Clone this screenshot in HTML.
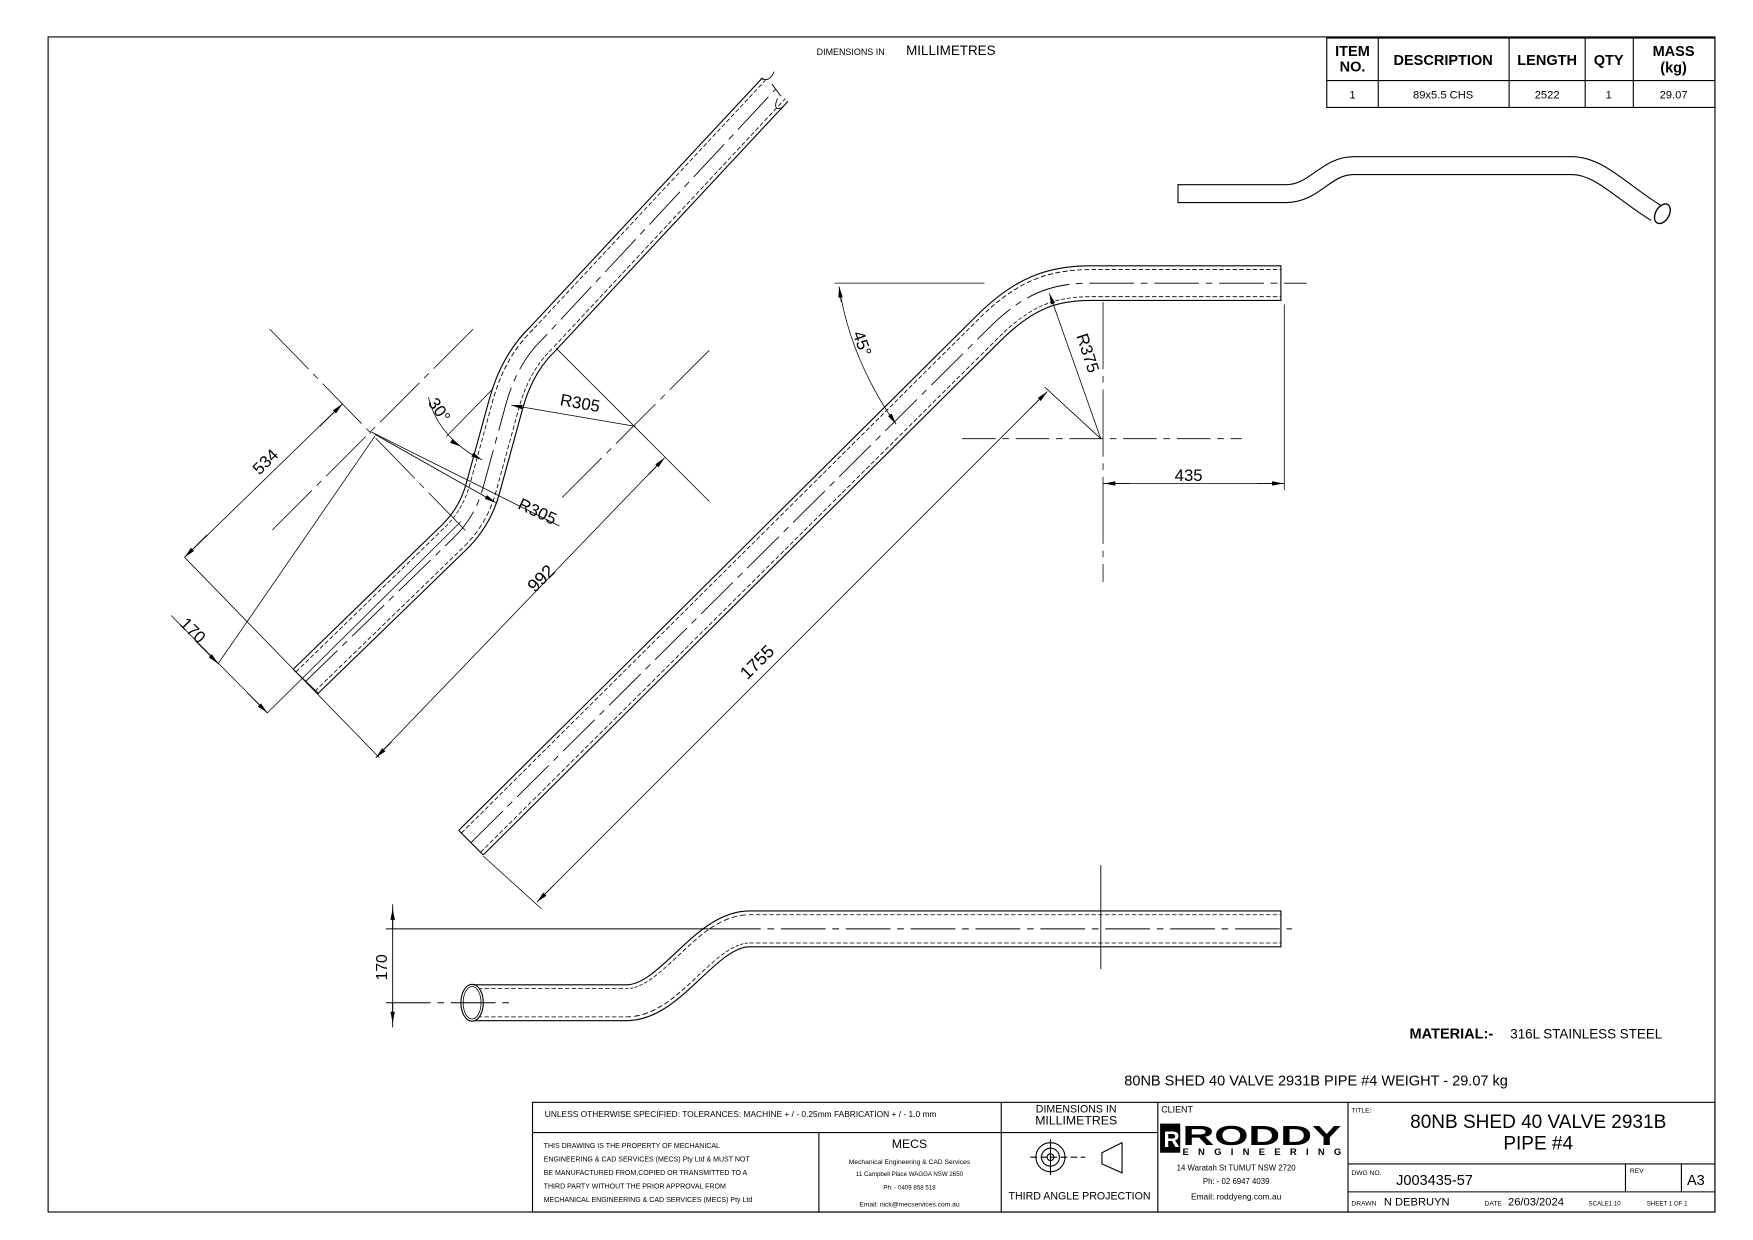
<!DOCTYPE html>
<html><head><meta charset="utf-8"><style>
html,body{margin:0;padding:0;background:#fff;}
svg{display:block;}
text{font-family:"Liberation Sans",sans-serif;fill:#000;}
</style></head><body>
<svg width="1753" height="1240" viewBox="0 0 1567 1108" preserveAspectRatio="none" xmlns="http://www.w3.org/2000/svg">
<defs>
<marker id="ar" viewBox="0 0 10 4" refX="10" refY="2" markerWidth="10" markerHeight="4" orient="auto" markerUnits="userSpaceOnUse"><path d="M0,0 L10,2 L0,4 z" fill="#000"/></marker>
</defs>
<rect x="43" y="33" width="1490" height="1050" fill="none" stroke="#000" stroke-width="1"/>
<text x="730" y="49" font-size="8">DIMENSIONS IN</text><text x="810" y="49" font-size="12">MILLIMETRES</text>

<!-- BOM -->
<g stroke="#000" stroke-width="1" fill="none">
<rect x="1186" y="34" width="347" height="62"/>
<line x1="1186" y1="72" x2="1533" y2="72"/>
<line x1="1232" y1="34" x2="1232" y2="96"/><line x1="1349" y1="34" x2="1349" y2="96"/>
<line x1="1417" y1="34" x2="1417" y2="96"/><line x1="1460" y1="34" x2="1460" y2="96"/>
</g>
<g font-weight="bold" font-size="13" text-anchor="middle">
<text x="1209" y="50">ITEM</text><text x="1209" y="64">NO.</text>
<text x="1290" y="58">DESCRIPTION</text><text x="1383" y="58">LENGTH</text><text x="1438" y="58">QTY</text>
<text x="1496" y="50">MASS</text><text x="1496" y="65">(kg)</text>
</g>
<g font-size="10" text-anchor="middle">
<text x="1209" y="88">1</text><text x="1290" y="88">89x5.5 CHS</text><text x="1383" y="88">2522</text><text x="1438" y="88">1</text><text x="1496" y="88">29.07</text>
</g>

<!-- small iso pipe -->
<path d="M1053,173 L1150,173 C1175,173 1185,148 1210,148 L1405,148 C1430,148 1450,172 1480,190" fill="none" stroke="#000" stroke-width="17"/>
<path d="M1053,173 L1150,173 C1175,173 1185,148 1210,148 L1405,148 C1430,148 1450,172 1480,190" fill="none" stroke="#fff" stroke-width="15"/>
<line x1="1053" y1="164.5" x2="1053" y2="181.5" stroke="#000"/>
<ellipse cx="1486" cy="191" rx="6" ry="9.5" transform="rotate(30 1486 191)" fill="#fff" stroke="#000" stroke-width="1.2"/>

<!-- PIPE 1 -->
<g fill="none">
<path d="M273,609 L405,481 Q425,462 432,435 L452,362 Q462,325 485,303 L693,80" stroke="#000" stroke-width="32"/>
<path d="M273,609 L405,481 Q425,462 432,435 L452,362 Q462,325 485,303 L693,80" stroke="#fff" stroke-width="30"/>
<path d="M273,609 L405,481 Q425,462 432,435 L452,362 Q462,325 485,303 L693,80" stroke="#000" stroke-width="25" stroke-dasharray="4 2"/>
<path d="M273,609 L405,481 Q425,462 432,435 L452,362 Q462,325 485,303 L693,80" stroke="#fff" stroke-width="23.5"/>
<path d="M273,609 L405,481 Q425,462 432,435 L452,362 Q462,325 485,303 L693,80" stroke="#000" stroke-width="0.8" stroke-dasharray="40 6 6 6"/>
</g>
<line x1="262" y1="598" x2="285" y2="620" stroke="#000"/>
<path d="M680,70 Q688,74 692,64 M695,88 Q690,100 700,96 M690,75 L698,86" stroke="#000" stroke-width="0.8" fill="none"/>

<!-- PIPE 2 -->
<g fill="none">
<path d="M421,753 L883,294 C915,262 940,253 975,253 L1145,253" stroke="#000" stroke-width="32"/>
<path d="M421,753 L883,294 C915,262 940,253 975,253 L1145,253" stroke="#fff" stroke-width="30"/>
<path d="M421,753 L883,294 C915,262 940,253 975,253 L1145,253" stroke="#000" stroke-width="25" stroke-dasharray="4 2"/>
<path d="M421,753 L883,294 C915,262 940,253 975,253 L1145,253" stroke="#fff" stroke-width="23.5"/>
<path d="M421,753 L883,294 C915,262 940,253 975,253 L1168,253" stroke="#000" stroke-width="0.8" stroke-dasharray="40 6 6 6"/>
</g>
<line x1="410" y1="742" x2="432" y2="764" stroke="#000"/>
<line x1="1145" y1="237" x2="1145" y2="269" stroke="#000"/>

<!-- PIPE 3 -->
<g fill="none">
<path d="M421,896 L560,896 C600,896 630,830 670,830 L1145,830" stroke="#000" stroke-width="33"/>
<path d="M421,896 L560,896 C600,896 630,830 670,830 L1145,830" stroke="#fff" stroke-width="31"/>
<path d="M421,896 L560,896 C600,896 630,830 670,830 L1145,830" stroke="#000" stroke-width="26" stroke-dasharray="4 2"/>
<path d="M421,896 L560,896 C600,896 630,830 670,830 L1145,830" stroke="#fff" stroke-width="24.5"/>
</g>
<line x1="1145" y1="813.5" x2="1145" y2="846.5" stroke="#000"/>
<ellipse cx="422" cy="896" rx="10" ry="16.5" fill="#fff" stroke="#000"/>
<ellipse cx="422" cy="896" rx="8" ry="14.5" fill="none" stroke="#000" stroke-width="0.7"/>
<g stroke="#000" stroke-width="0.8" fill="none">
<line x1="345" y1="830" x2="640" y2="830"/>
<line x1="640" y1="830" x2="1155" y2="830" stroke-dasharray="40 6 6 6"/>
<line x1="345" y1="896" x2="460" y2="896" stroke-dasharray="40 6 6 6"/>
<line x1="351" y1="808" x2="351" y2="918"/>
<line x1="351" y1="830" x2="351" y2="812" marker-end="url(#ar)"/>
<line x1="351" y1="896" x2="351" y2="914" marker-end="url(#ar)"/>
<line x1="984" y1="773" x2="984" y2="866"/>
</g>
<text x="0" y="0" font-size="14" transform="translate(346,876) rotate(-90)">170</text>

<!-- dims pipe 2 -->
<g stroke="#000" stroke-width="0.7" fill="none">
<line x1="746" y1="253" x2="880" y2="253"/>
<path d="M750,256 Q760,320 800,378"/>
<line x1="752" y1="270" x2="750" y2="256" marker-end="url(#ar)"/>
<line x1="795" y1="370" x2="801" y2="379" marker-end="url(#ar)"/>
<line x1="984" y1="392" x2="938" y2="262" marker-end="url(#ar)"/>
<line x1="860" y1="392" x2="1110" y2="392" stroke-dasharray="30 6 6 6"/>
<line x1="986" y1="270" x2="986" y2="520" stroke-dasharray="60 6 6 6"/>
<line x1="1148" y1="272" x2="1148" y2="438"/>
<line x1="986" y1="432" x2="1148" y2="432"/>
<line x1="1010" y1="432" x2="987" y2="432" marker-end="url(#ar)"/>
<line x1="1124" y1="432" x2="1147" y2="432" marker-end="url(#ar)"/>
<line x1="432" y1="765" x2="484" y2="812"/>
<line x1="984" y1="392" x2="934" y2="346"/>
<line x1="480" y1="806" x2="936" y2="350"/>
<line x1="495" y1="791" x2="480" y2="806" marker-end="url(#ar)"/>
<line x1="921" y1="365" x2="936" y2="350" marker-end="url(#ar)"/>
</g>
<text font-size="15" transform="translate(762,298) rotate(70)">45°</text>
<text font-size="15" transform="translate(962,300) rotate(72)">R375</text>
<text x="1050" y="430" font-size="15">435</text>
<text font-size="16" transform="translate(668,608) rotate(-45)">1755</text>

<!-- dims pipe 1 -->
<g stroke="#000" stroke-width="0.7" fill="none">
<line x1="241" y1="294" x2="416" y2="474" stroke-dasharray="50 6 6 6"/>
<line x1="423" y1="294" x2="241" y2="476" stroke-dasharray="50 6 6 6"/>
<line x1="165" y1="498" x2="339" y2="677"/>
<line x1="165" y1="498" x2="306" y2="361"/>
<line x1="185" y1="478" x2="165" y2="498" marker-end="url(#ar)"/>
<line x1="286" y1="381" x2="306" y2="361" marker-end="url(#ar)"/>
<line x1="153" y1="550" x2="239" y2="637"/>
<line x1="175" y1="573" x2="195" y2="593" marker-end="url(#ar)"/>
<line x1="221" y1="619" x2="239" y2="637" marker-end="url(#ar)"/>
<line x1="239" y1="637" x2="412" y2="466"/>
<line x1="195" y1="593" x2="335" y2="390"/>
<line x1="497" y1="311" x2="634" y2="448"/>
<line x1="634" y1="313" x2="499" y2="448" stroke-dasharray="50 6 6 6"/>
<line x1="336" y1="677" x2="594" y2="409"/>
<line x1="350" y1="663" x2="336" y2="677" marker-end="url(#ar)"/>
<line x1="580" y1="424" x2="594" y2="409" marker-end="url(#ar)"/>
<line x1="568" y1="381" x2="457" y2="362" marker-end="url(#ar)"/>
<line x1="332" y1="386" x2="500" y2="470"/>
<line x1="335" y1="388" x2="443" y2="449" marker-end="url(#ar)"/>
<line x1="441" y1="347" x2="399" y2="390"/>
<path d="M383,355 Q390,385 420,405"/>
<line x1="405" y1="395" x2="412" y2="399" marker-end="url(#ar)"/>
<line x1="420" y1="405" x2="431" y2="411" marker-end="url(#ar)"/>
</g>
<text font-size="15" transform="translate(232,425) rotate(-45)">534</text>
<text font-size="15" transform="translate(160,558) rotate(45)">170</text>
<text font-size="15" transform="translate(382,360) rotate(55)">30°</text>
<text font-size="15" transform="translate(500,362) rotate(10)">R305</text>
<text font-size="15" transform="translate(462,454) rotate(25)">R305</text>
<text font-size="16" transform="translate(478,530) rotate(-45)">992</text>

<!-- notes -->
<text x="1260" y="928" font-size="13" font-weight="bold">MATERIAL:-</text>
<text x="1350" y="928" font-size="12">316L STAINLESS STEEL</text>
<text x="1005" y="970" font-size="13">80NB SHED 40 VALVE 2931B PIPE #4 WEIGHT -  29.07 kg</text>

<!-- title block -->
<g stroke="#000" stroke-width="1" fill="none">
<rect x="476" y="985" width="1057" height="98"/>
<line x1="476" y1="1012" x2="1035" y2="1012"/>
<line x1="732" y1="1012" x2="732" y2="1083"/>
<line x1="895" y1="985" x2="895" y2="1083"/>
<line x1="1035" y1="985" x2="1035" y2="1083"/>
<line x1="1205" y1="985" x2="1205" y2="1083"/>
<line x1="1205" y1="1040" x2="1533" y2="1040"/>
<line x1="1205" y1="1065" x2="1533" y2="1065"/>
<line x1="1453" y1="1040" x2="1453" y2="1065"/>
<line x1="1503" y1="1040" x2="1503" y2="1065"/>
<circle cx="939" cy="1034" r="13"/><circle cx="939" cy="1034" r="8"/><circle cx="939" cy="1034" r="3"/>
<line x1="921" y1="1034" x2="970" y2="1034" stroke-dasharray="6 3"/>
<line x1="939" y1="1018" x2="939" y2="1050"/>
<path d="M985,1030 L1003,1021 L1003,1048 L985,1040 Z"/>
</g>
<text x="487" y="998" font-size="7.5">UNLESS OTHERWISE SPECIFIED: TOLERANCES: MACHINE + / - 0.25mm  FABRICATION + / - 1.0 mm</text>
<g font-size="6.3">
<text x="486" y="1026">THIS DRAWING IS THE PROPERTY OF MECHANICAL</text>
<text x="486" y="1038">ENGINEERING &amp; CAD SERVICES (MECS) Pty Ltd &amp; MUST NOT</text>
<text x="486" y="1050">BE MANUFACTURED FROM,COPIED OR TRANSMITTED TO A</text>
<text x="486" y="1062">THIRD PARTY WITHOUT THE PRIOR APPROVAL FROM</text>
<text x="486" y="1074">MECHANICAL ENGINEERING &amp; CAD SERVICES (MECS) Pty Ltd</text>
</g>
<g text-anchor="middle">
<text x="813" y="1026" font-size="11">MECS</text>
<text x="813" y="1040" font-size="6">Mechanical Engineering &amp; CAD Services</text>
<text x="813" y="1051" font-size="5.5">11 Campbell Place WAGGA NSW 2650</text>
<text x="813" y="1063" font-size="5.5">Ph: - 0409 858 518</text>
<text x="813" y="1078" font-size="6">Email: nick@mecservices.com.au</text>
<text x="962" y="994" font-size="9.5">DIMENSIONS IN</text>
<text x="962" y="1005" font-size="11">MILLIMETRES</text>
<text x="965" y="1072" font-size="9.5">THIRD ANGLE PROJECTION</text>
<text x="1105" y="1046" font-size="7">14 Waratah St TUMUT NSW 2720</text>
<text x="1105" y="1058" font-size="7">Ph: - 02 6947 4039</text>
<text x="1105" y="1072" font-size="7.5">Email: roddyeng.com.au</text>
<text x="1375" y="1008" font-size="17">80NB SHED 40 VALVE 2931B</text>
<text x="1375" y="1027" font-size="17">PIPE #4</text>
</g>
<text x="1038" y="994" font-size="8">CLIENT</text>
<rect x="1037" y="1004" width="18" height="26" fill="#000"/>
<text x="1040" y="1025" font-size="20" font-weight="bold" style="fill:#fff">R</text>
<text x="1057" y="1023" font-size="25" font-weight="bold" textLength="142" lengthAdjust="spacingAndGlyphs">RODDY</text>
<text x="1057" y="1032" font-size="8.5" font-weight="bold" textLength="142" lengthAdjust="spacing">ENGINEERING</text>
<text x="1208" y="994" font-size="6">TITLE:</text>
<text x="1208" y="1050" font-size="6">DWG NO.</text>
<text x="1248" y="1059" font-size="13">J003435-57</text>
<text x="1457" y="1048" font-size="6">REV</text>
<text x="1508" y="1059" font-size="13">A3</text>
<text x="1208" y="1077" font-size="6">DRAWN</text>
<text x="1237" y="1077" font-size="10">N DEBRUYN</text>
<text x="1327" y="1077" font-size="6">DATE</text>
<text x="1348" y="1077" font-size="10">26/03/2024</text>
<text x="1420" y="1077" font-size="5.5">SCALE1:10</text>
<text x="1472" y="1077" font-size="5.5">SHEET 1 OF 1</text>
</svg>
</body></html>
